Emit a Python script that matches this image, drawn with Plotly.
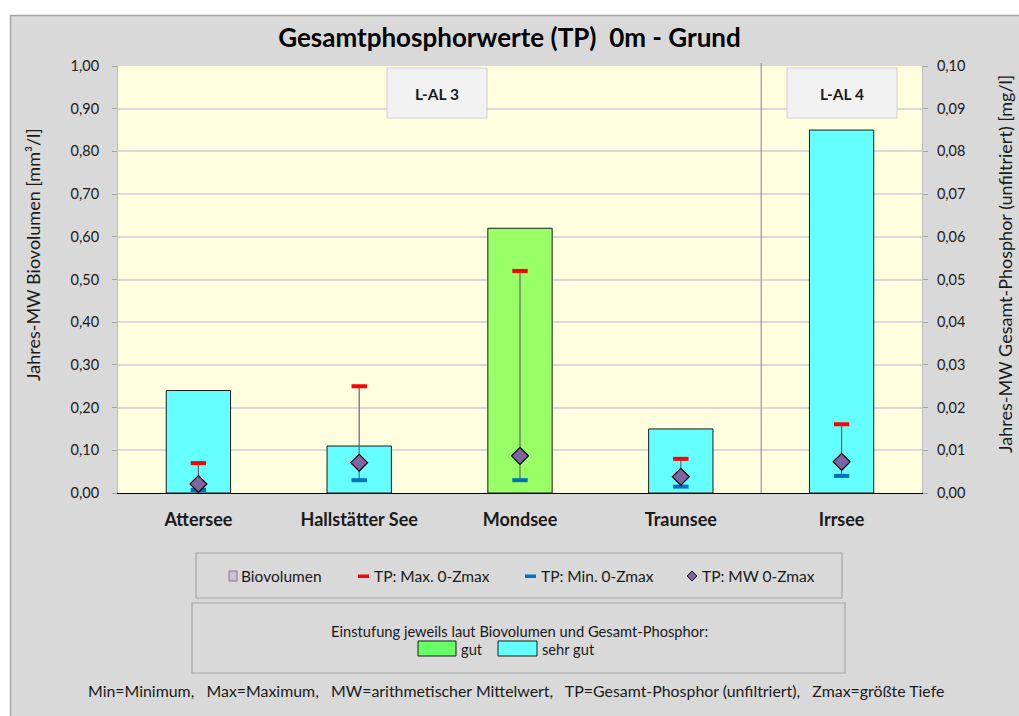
import plotly.graph_objects as go

# ---------------- data ----------------
lakes = ["Attersee", "Hallstätter See", "Mondsee", "Traunsee", "Irrsee"]
biovolumen = [0.24, 0.11, 0.62, 0.15, 0.85]          # mm³/l (left axis)
tp_max = [0.0070, 0.0250, 0.0520, 0.0080, 0.0161]    # mg/l (right axis)
tp_min = [0.0007, 0.0030, 0.0030, 0.0015, 0.0040]
tp_mw = [0.0021, 0.0071, 0.0087, 0.0038, 0.0073]
einstufung = ["sehr gut", "sehr gut", "gut", "sehr gut", "sehr gut"]
klasse_farben = {"gut": "#99FF66", "sehr gut": "#66FFFF"}
region_labels = ["L-AL 3", "L-AL 4"]
left_ticks = [0, 0.1, 0.2, 0.3, 0.4, 0.5, 0.6, 0.7, 0.8, 0.9, 1.0]
right_ticks = [0, 0.01, 0.02, 0.03, 0.04, 0.05, 0.06, 0.07, 0.08, 0.09, 0.10]

# ---------------- geometry helpers ----------------
W, H = 1019, 716
L, R, T, B = 118, 922, 66, 493   # plot area in page pixels
FONT = "Lato"
TXT = "#1a1a1a"


def px(x):
    return (x - L) / (R - L)


def py(y):
    return (B - y) / (B - T)


def note(x, y, text, size, xanchor="center", **kw):
    return dict(xref="paper", yref="paper", x=px(x), y=py(y), text=text,
                xanchor=xanchor, yanchor="middle", showarrow=False,
                font=dict(family=FONT, size=size, color=TXT), **kw)


fig = go.Figure()

fig.add_trace(go.Bar(
    x=lakes, y=biovolumen, width=0.4, name="Biovolumen",
    marker=dict(color=[klasse_farben[k] for k in einstufung],
                line=dict(color="#1a1a1a", width=1)),
    showlegend=False, yaxis="y",
))

# connecting line min - max via error bars on mean
fig.add_trace(go.Scatter(
    x=lakes, y=tp_mw, mode="markers", yaxis="y2", showlegend=False,
    marker=dict(size=1, color="rgba(0,0,0,0)"),
    error_y=dict(type="data", symmetric=False,
                 array=[a - m for a, m in zip(tp_max, tp_mw)],
                 arrayminus=[m - b for m, b in zip(tp_mw, tp_min)],
                 color="#666666", thickness=1.2, width=0),
    hoverinfo="skip",
))
fig.add_trace(go.Scatter(
    x=lakes, y=tp_max, mode="markers", yaxis="y2", name="TP: Max. 0-Zmax",
    marker=dict(symbol="line-ew", size=11, line=dict(color="#FF0000", width=4)),
    showlegend=False,
))
fig.add_trace(go.Scatter(
    x=lakes, y=tp_min, mode="markers", yaxis="y2", name="TP: Min. 0-Zmax",
    marker=dict(symbol="line-ew", size=11, line=dict(color="#0070C0", width=4)),
    showlegend=False,
))
fig.add_trace(go.Scatter(
    x=lakes, y=tp_mw, mode="markers", yaxis="y2", name="TP: MW 0-Zmax",
    marker=dict(symbol="diamond", size=13, color="#8064A2",
                line=dict(color="#000000", width=1.2)),
    showlegend=False,
))

shapes = []
annotations = []

# outer frame (white strip top/left, gray border)
shapes.append(dict(type="rect", xref="paper", yref="paper",
                   x0=px(0), x1=px(W), y0=py(0), y1=py(15),
                   fillcolor="white", line=dict(width=0), layer="below"))
shapes.append(dict(type="rect", xref="paper", yref="paper",
                   x0=px(0), x1=px(10), y0=py(0), y1=py(H),
                   fillcolor="white", line=dict(width=0), layer="below"))
shapes.append(dict(type="line", xref="paper", yref="paper",
                   x0=px(10), x1=px(W), y0=py(15.5), y1=py(15.5),
                   line=dict(color="#A6A6A6", width=1.5)))
shapes.append(dict(type="line", xref="paper", yref="paper",
                   x0=px(10.5), x1=px(10.5), y0=py(15), y1=py(H),
                   line=dict(color="#A6A6A6", width=1.5)))

# divider between regions
shapes.append(dict(type="line", xref="x", yref="paper",
                   x0=3.5, x1=3.5, y0=0, y1=py(63),
                   line=dict(color="#808080", width=1)))

# region label boxes
for label, (x0, x1) in zip(region_labels, [(387, 487), (787, 897)]):
    shapes.append(dict(type="rect", xref="paper", yref="paper",
                       x0=px(x0), x1=px(x1), y0=py(118), y1=py(68),
                       fillcolor="#F2F2F2", line=dict(color="#D0D0D0", width=1)))
    annotations.append(note((x0 + x1) / 2, 94, f"<b>{label}</b>", 15.5))

# legend box 1
shapes.append(dict(type="rect", xref="paper", yref="paper",
                   x0=px(196), x1=px(842), y0=py(598), y1=py(553),
                   line=dict(color="#A6A6A6", width=1.2)))
ly = 576
shapes.append(dict(type="rect", xref="paper", yref="paper",
                   x0=px(229), x1=px(237), y0=py(581), y1=py(571),
                   fillcolor="#CCC0DA", line=dict(color="#7F7F7F", width=1)))
shapes.append(dict(type="rect", xref="paper", yref="paper",
                   x0=px(358), x1=px(369), y0=py(578), y1=py(574.5),
                   fillcolor="#FF0000", line=dict(width=0)))
shapes.append(dict(type="rect", xref="paper", yref="paper",
                   x0=px(525), x1=px(536), y0=py(578), y1=py(574.5),
                   fillcolor="#0070C0", line=dict(width=0)))
cx, cy, hw = 692, 576, 5
shapes.append(dict(type="path", xref="paper", yref="paper",
                   path=(f"M {px(cx)},{py(cy - hw)} L {px(cx + hw)},{py(cy)} "
                         f"L {px(cx)},{py(cy + hw)} L {px(cx - hw)},{py(cy)} Z"),
                   fillcolor="#8064A2", line=dict(color="#000000", width=1)))
for txt, x in [("Biovolumen", 239), ("TP: Max. 0-Zmax", 372),
               ("TP: Min. 0-Zmax", 539), ("TP: MW 0-Zmax", 700)]:
    annotations.append(note(x, ly, txt, 15.5, xanchor="left"))

# legend box 2 (classification)
shapes.append(dict(type="rect", xref="paper", yref="paper",
                   x0=px(192), x1=px(845), y0=py(673), y1=py(603),
                   line=dict(color="#A6A6A6", width=1.2)))
annotations.append(note(519, 631, "Einstufung jeweils laut Biovolumen und Gesamt-Phosphor:", 14.7))
shapes.append(dict(type="rect", xref="paper", yref="paper",
                   x0=px(418), x1=px(456), y0=py(656), y1=py(641),
                   fillcolor="#66FF66", line=dict(color="#1a1a1a", width=1)))
shapes.append(dict(type="rect", xref="paper", yref="paper",
                   x0=px(498), x1=px(537), y0=py(656), y1=py(641),
                   fillcolor="#66FFFF", line=dict(color="#1a1a1a", width=1)))
annotations.append(note(459, 648.5, "gut", 14.7, xanchor="left"))
annotations.append(note(540, 648.5, "sehr gut", 14.7, xanchor="left"))

# footnote
annotations.append(note(516, 690,
                        "Min=Minimum,   Max=Maximum,   MW=arithmetischer Mittelwert,   "
                        "TP=Gesamt-Phosphor (unfiltriert),   Zmax=größte Tiefe", 15.9))

# axis titles
annotations.append(note(33, 255, "Jahres-MW Biovolumen [mm³/l]", 18, textangle=-90))
annotations.append(note(1005, 264, "Jahres-MW Gesamt-Phosphor (unfiltriert) [mg/l]", 18,
                        textangle=-90))

fig.update_layout(
    width=W, height=H,
    margin=dict(l=L, r=W - R, t=T, b=H - B, pad=0),
    paper_bgcolor="#D9D9D9",
    plot_bgcolor="#FFFFE0",
    separators=",.",
    barmode="overlay",
    showlegend=False,
    title=dict(text="<b>Gesamtphosphorwerte (TP)  0m - Grund</b>",
               x=509.5 / W, xanchor="center", y=1 - 38 / H, yanchor="middle",
               font=dict(family=FONT, size=26, color="#000000")),
    font=dict(family=FONT, color=TXT),
    xaxis=dict(type="category", range=[-0.5, 4.5], showgrid=False,
               showline=True, linecolor="#000000", linewidth=1.2,
               ticks="", ticklabelstandoff=10,
               tickfont=dict(family=FONT, size=18, color=TXT),
               tickprefix="<b>", ticksuffix="</b>", zeroline=False),
    yaxis=dict(range=[0, 1], tickvals=left_ticks, tickformat=".2f",
               showgrid=True, gridcolor="#D9D9D9", gridwidth=1.5,
               ticks="outside", ticklen=5, tickcolor="#A6A6A6",
               ticklabelstandoff=10,
               showline=True, linecolor="#BFBFBF", linewidth=1,
               tickfont=dict(family=FONT, size=14.5, color=TXT), zeroline=False),
    yaxis2=dict(range=[0, 0.1], tickvals=right_ticks, tickformat=".2f",
                overlaying="y", side="right", showgrid=False,
                ticks="outside", ticklen=5, tickcolor="#A6A6A6",
                ticklabelstandoff=6,
                showline=True, linecolor="#BFBFBF", linewidth=1,
                tickfont=dict(family=FONT, size=14.5, color=TXT), zeroline=False),
    shapes=shapes,
    annotations=annotations,
)

fig.write_html("out.html", config={"displayModeBar": False},
               post_script="document.body.style.margin='0';document.body.style.overflow='hidden';")
